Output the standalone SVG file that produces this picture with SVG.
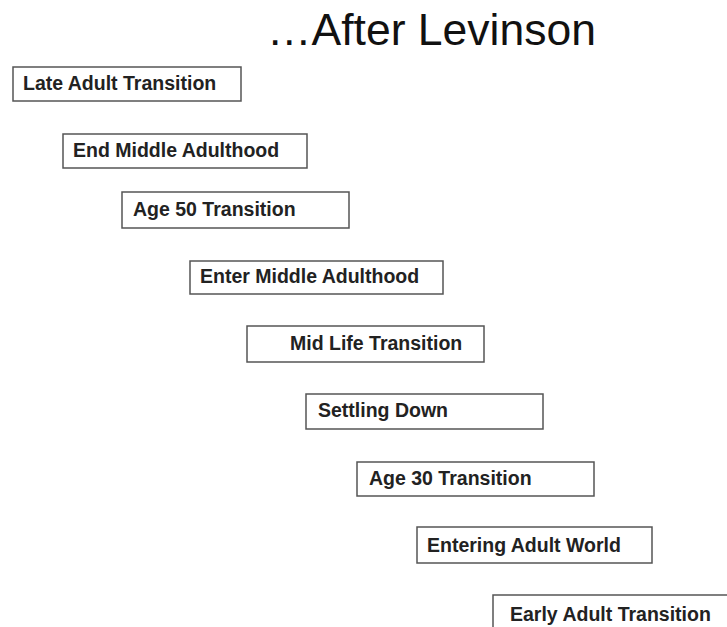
<svg xmlns="http://www.w3.org/2000/svg" width="727" height="627" viewBox="0 0 727 627">
<style>
.box{fill:#fff;stroke:#555;stroke-width:1.5}
.lbl{font-family:"Liberation Sans",Arial,sans-serif;font-weight:bold;font-size:19.5px;fill:#222}
.title{font-family:"Liberation Sans",Arial,sans-serif;font-size:44.5px;fill:#111}
</style>
<rect width="727" height="627" fill="#fff"/>
<text class="title" x="267" y="45">…After Levinson</text>
<g id="connectors"/>
<g id="n1"><rect class="box" x="13" y="67" width="228" height="34"/><text class="lbl" x="23" y="90">Late Adult Transition</text></g>
<g id="n2"><rect class="box" x="63" y="134" width="244" height="34"/><text class="lbl" x="73" y="157">End Middle Adulthood</text></g>
<g id="n3"><rect class="box" x="122" y="192" width="227" height="36"/><text class="lbl" x="133" y="216">Age 50 Transition</text></g>
<g id="n4"><rect class="box" x="190" y="261" width="253" height="33"/><text class="lbl" x="200" y="283">Enter Middle Adulthood</text></g>
<g id="n5"><rect class="box" x="247" y="326" width="237" height="36"/><text class="lbl" x="290" y="350">Mid Life Transition</text></g>
<g id="n6"><rect class="box" x="306" y="394" width="237" height="35"/><text class="lbl" x="318" y="417">Settling Down</text></g>
<g id="n7"><rect class="box" x="357" y="462" width="237" height="34"/><text class="lbl" x="369" y="485">Age 30 Transition</text></g>
<g id="n8"><rect class="box" x="417" y="527" width="235" height="36"/><text class="lbl" x="427" y="552">Entering Adult World</text></g>
<g id="n9"><rect class="box" x="493" y="595" width="260" height="50"/><text class="lbl" x="510" y="621">Early Adult Transition</text></g>
</svg>
